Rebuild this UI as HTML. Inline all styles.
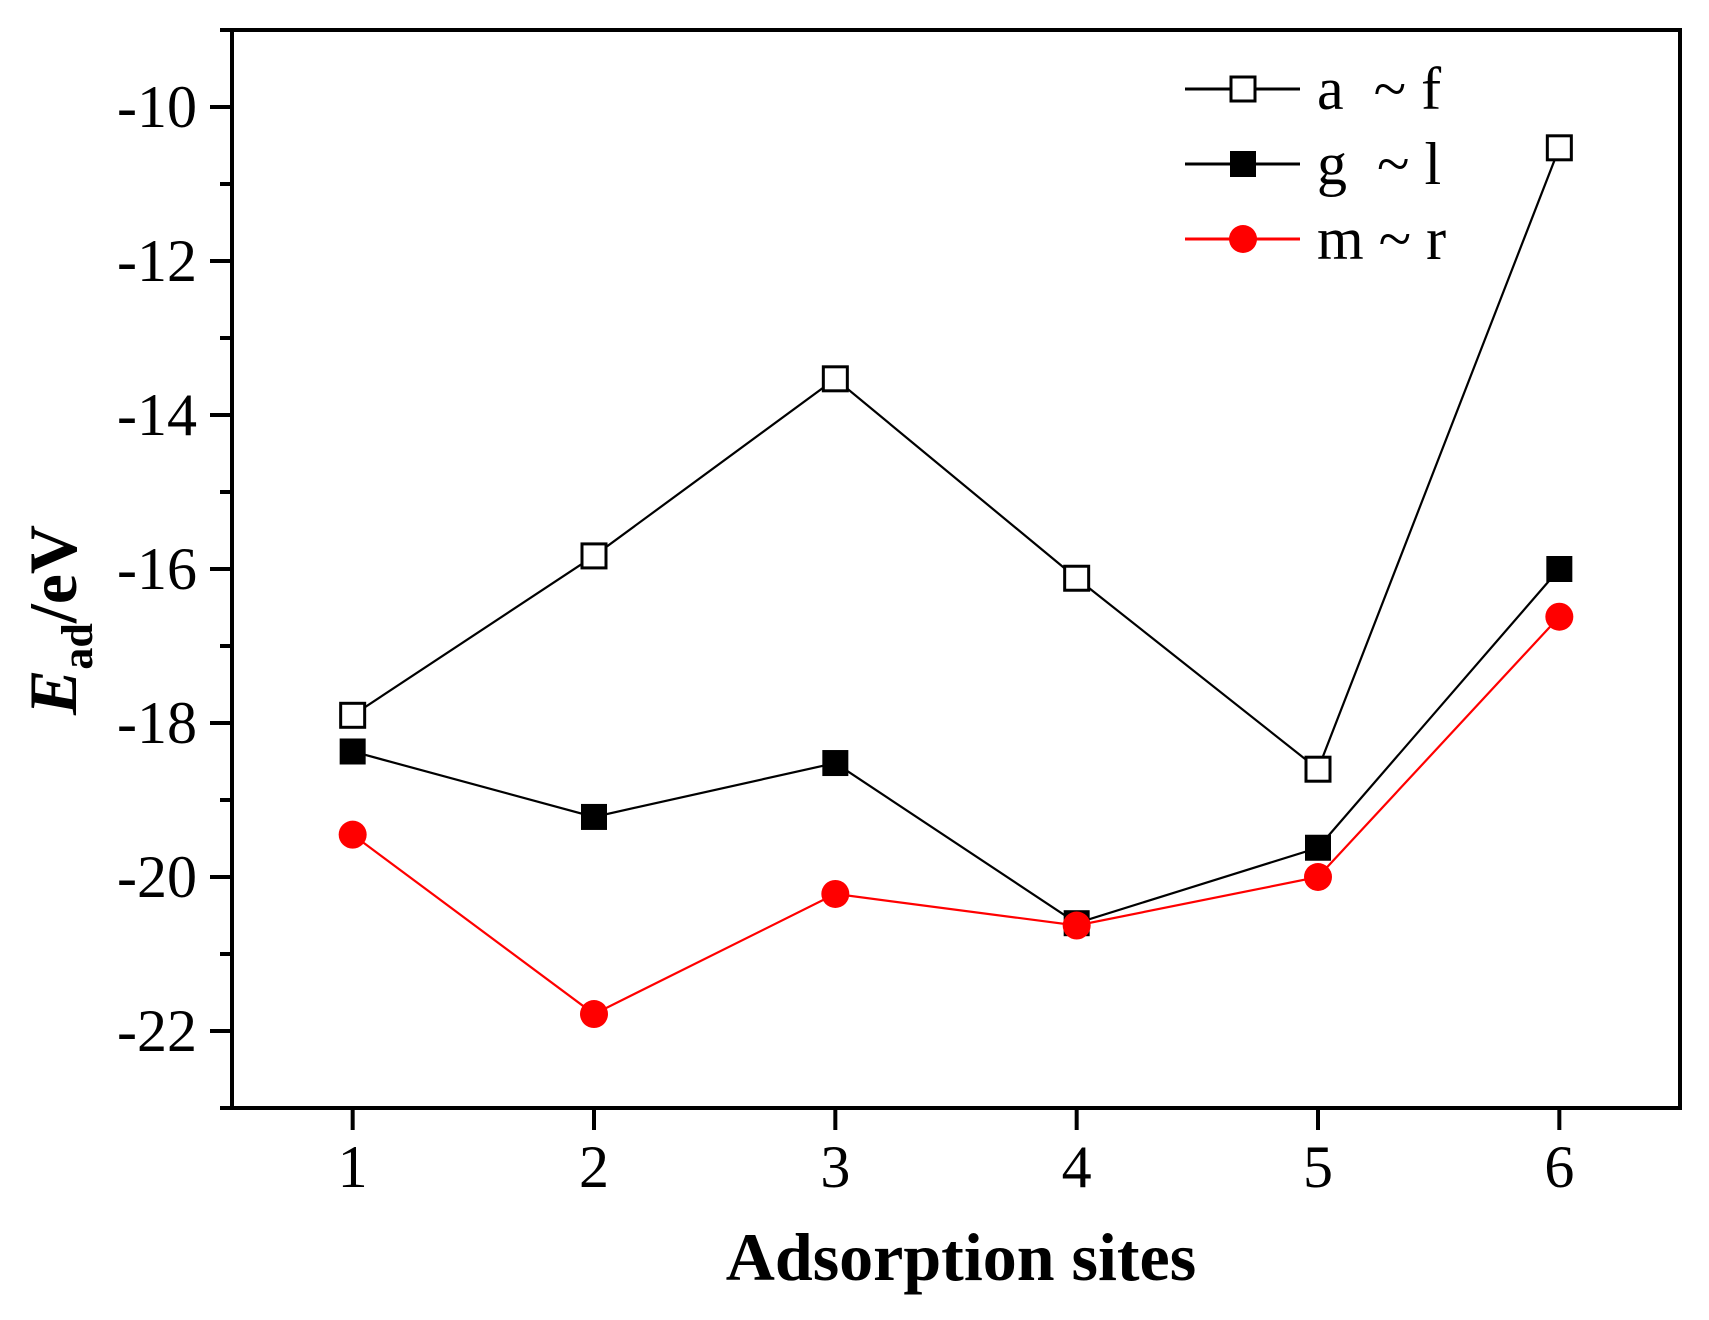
<!DOCTYPE html>
<html><head><meta charset="utf-8"><style>
html,body{margin:0;padding:0;background:#fff;}
svg{display:block;}
text{font-family:"Liberation Serif",serif;}
</style></head><body>
<svg id="chart" width="1709" height="1320" viewBox="0 0 1709 1320" xmlns="http://www.w3.org/2000/svg">
<g id="plot"></g>
</svg>
<script>
const categories = [1, 2, 3, 4, 5, 6];
const seriesAF = [-17.9, -15.83, -13.53, -16.12, -18.6, -10.53];
const seriesGL = [-18.37, -19.22, -18.52, -20.6, -19.62, -16.0];
const seriesMR = [-19.45, -21.78, -20.22, -20.63, -20.0, -16.62];
const yTicks = [-22, -20, -18, -16, -14, -12, -10];
const yMinor = [-23, -21, -19, -17, -15, -13, -11, -9];
const seriesNames = ["a  ~ f", "g  ~ l", "m ~ r"];

const L = 232, R = 1680, T = 30, B = 1108;
const xMin = 0.5, xMax = 6.5, yMin = -23, yMax = -9;
function xs(v){ return L + (v - xMin) / (xMax - xMin) * (R - L); }
function ys(v){ return B - (v - yMin) / (yMax - yMin) * (B - T); }

const NS = "http://www.w3.org/2000/svg";
const g = document.getElementById('plot');
function mk(tag, attrs, parent){
  const e = document.createElementNS(NS, tag);
  for (const k in attrs) e.setAttribute(k, attrs[k]);
  (parent || g).appendChild(e);
  return e;
}

let frame = mk('rect', {x:L, y:T, width:R-L, height:B-T, fill:'none', stroke:'#000', 'stroke-width':4});



yTicks.forEach(v => {
  const y = ys(v);
  let t = mk('line', {x1:L-22, x2:L, y1:y, y2:y, stroke:'#000', 'stroke-width':4});
  
  
  let lab = mk('text', {x:197, y:y+20, 'font-size':60, 'text-anchor':'end'});
  lab.textContent = String(v);
  
  
});
yMinor.forEach(v => {
  const y = ys(v);
  let t = mk('line', {x1:L-12, x2:L, y1:y, y2:y, stroke:'#000', 'stroke-width':4});
  
  
});
categories.forEach(c => {
  const x = xs(c);
  let t = mk('line', {x1:x, x2:x, y1:B, y2:B+22, stroke:'#000', 'stroke-width':4});
  
  
  let lab = mk('text', {x:x, y:1187, 'font-size':60, 'text-anchor':'middle'});
  lab.textContent = String(c);
  
  
});

let xt = mk('text', {x:961, y:1280, 'font-size':68, 'font-weight':'bold', 'text-anchor':'middle'});
xt.textContent = 'Adsorption sites';



let yt = mk('text', {transform:'translate(76,620) rotate(-90)', 'font-size':68, 'font-weight':'bold', 'text-anchor':'middle'});


let e1 = mk('tspan', {'font-style':'italic'}, yt); e1.textContent = 'E';
let e2 = mk('tspan', {'font-size':44, dy:16}, yt); e2.textContent = 'ad';
let e3 = mk('tspan', {dy:-16}, yt); e3.textContent = '/eV';

function marker(parent, kind, x, y){
  let m;
  if (kind === 'open') m = mk('rect', {x:x-12, y:y-12, width:24, height:24, fill:'#fff', stroke:'#000', 'stroke-width':3}, parent);
  else if (kind === 'filled') m = mk('rect', {x:x-13, y:y-13, width:26, height:26, fill:'#000'}, parent);
  else m = mk('circle', {cx:x, cy:y, r:14, fill:'#ff0000'}, parent);
  return m;
}

const series = [
  {vals: seriesAF, color:'#000', kind:'open', name:'series-a-f'},
  {vals: seriesGL, color:'#000', kind:'filled', name:'series-g-l'},
  {vals: seriesMR, color:'#ff0000', kind:'circle', name:'series-m-r'}
];
series.forEach(s => {
  const sg = mk('g', {});
  
  
  const pts = s.vals.map((v,i) => xs(categories[i]) + ',' + ys(v)).join(' ');
  let pl = mk('polyline', {points:pts, fill:'none', stroke:s.color, 'stroke-width':2.2}, sg);
  
  
  s.vals.forEach((v,i) => {
    let m = marker(sg, s.kind, xs(categories[i]), ys(v));
    
    
  });
});

const legY = [89, 164, 239];
series.forEach((s, i) => {
  const lg = mk('g', {});
  
  
  mk('line', {x1:1185, x2:1300, y1:legY[i], y2:legY[i], stroke:s.color, 'stroke-width':3}, lg);
  marker(lg, s.kind, 1243, legY[i]);
  let tx = mk('text', {x:1317, y:legY[i]+20, 'font-size':60}, lg);
  tx.setAttribute('xml:space', 'preserve');
  tx.style.whiteSpace = 'pre';
  tx.textContent = seriesNames[i];
});
</script>
</body></html>
